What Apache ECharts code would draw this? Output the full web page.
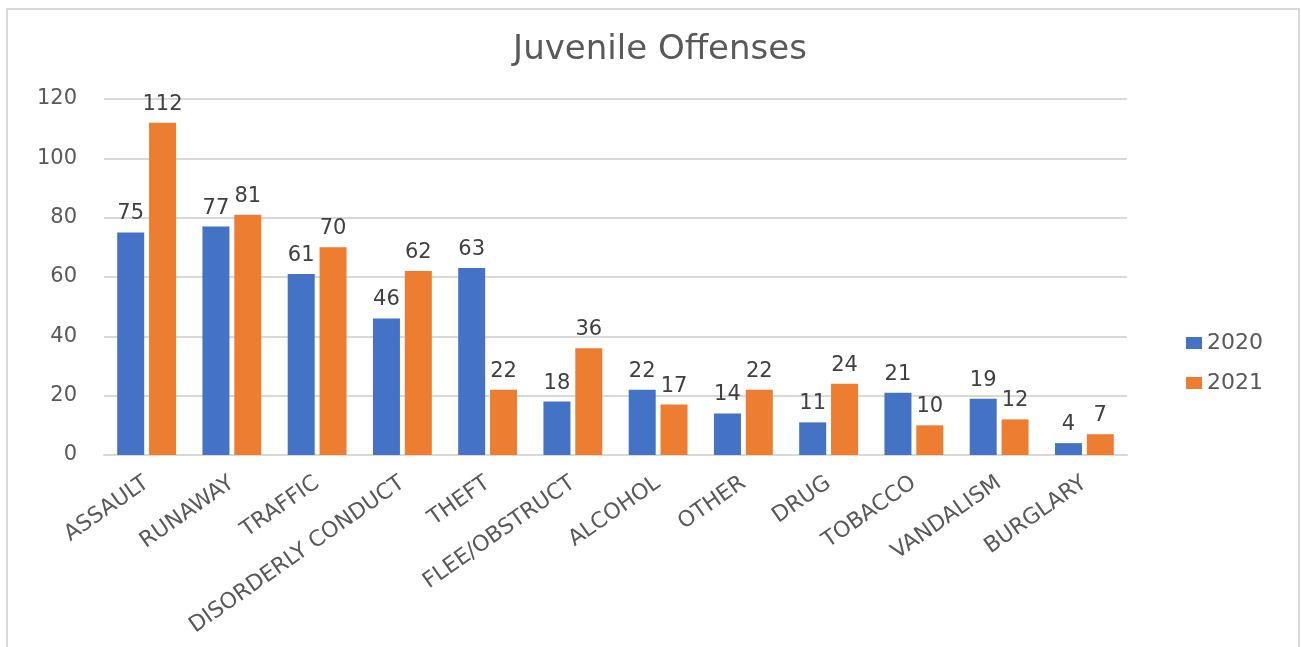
<!DOCTYPE html>
<html>
<head>
<meta charset="utf-8">
<script src="https://cdn.jsdelivr.net/npm/echarts@6/dist/echarts.min.js"></script>
<style>
html,body{margin:0;padding:0;background:#fff;}
#frame{position:absolute;left:6px;top:8px;width:1294px;height:660px;border:2px solid #d9d9d9;box-sizing:border-box;}
#chart{position:absolute;left:0;top:0;width:1301px;height:647px;}
</style>
</head>
<body>
<div id="frame"></div>
<div id="chart"></div>
<script>
const categories = ['ASSAULT','RUNAWAY','TRAFFIC','DISORDERLY CONDUCT','THEFT','FLEE/OBSTRUCT','ALCOHOL','OTHER','DRUG','TOBACCO','VANDALISM','BURGLARY'];
const values2020 = [75,77,61,46,63,18,22,14,11,21,19,4];
const values2021 = [112,81,70,62,22,36,17,22,24,10,12,7];
const seriesNames = ['2020','2021'];
const yTicks = {min:0,max:120,interval:20};

const FONT = 'DejaVu Sans';
const chart = echarts.init(document.getElementById('chart'));
const labelStyle = {show:true,position:'top',distance:8,color:'#404040',fontFamily:FONT,fontSize:21};
chart.setOption({
  animation:false,
  title:{text:'Juvenile Offenses',left:655,top:28,textAlign:'center',
    textStyle:{fontFamily:FONT,fontSize:34,fontWeight:'normal',color:'#595959'}},
  legend:{orient:'vertical',left:1181,top:327,itemWidth:16,itemHeight:12,itemGap:18,
    icon:'rect',textStyle:{fontFamily:FONT,fontSize:22,color:'#595959'},data:seriesNames},
  grid:{left:104,right:174,top:99,bottom:192,containLabel:false,outerBoundsMode:'none'},
  xAxis:{type:'category',data:categories,
    axisLine:{lineStyle:{color:'#d9d9d9',width:2}},axisTick:{show:false},
    axisLabel:{rotate:35,interval:0,margin:26,fontFamily:FONT,fontSize:22,color:'#595959'}},
  yAxis:{type:'value',min:yTicks.min,max:yTicks.max,interval:yTicks.interval,
    axisLine:{show:false},axisTick:{show:false},
    splitLine:{lineStyle:{color:'#d9d9d9',width:2}},
    axisLabel:{margin:27,fontFamily:FONT,fontSize:21,color:'#595959'}},
  series:[
    {name:seriesNames[0],type:'bar',data:values2020,barWidth:27,barGap:'18%',
      itemStyle:{color:'#4472c4'},label:labelStyle},
    {name:seriesNames[1],type:'bar',data:values2021,barWidth:27,
      itemStyle:{color:'#ed7d31'},label:labelStyle}
  ]
});
</script>
</body>
</html>
